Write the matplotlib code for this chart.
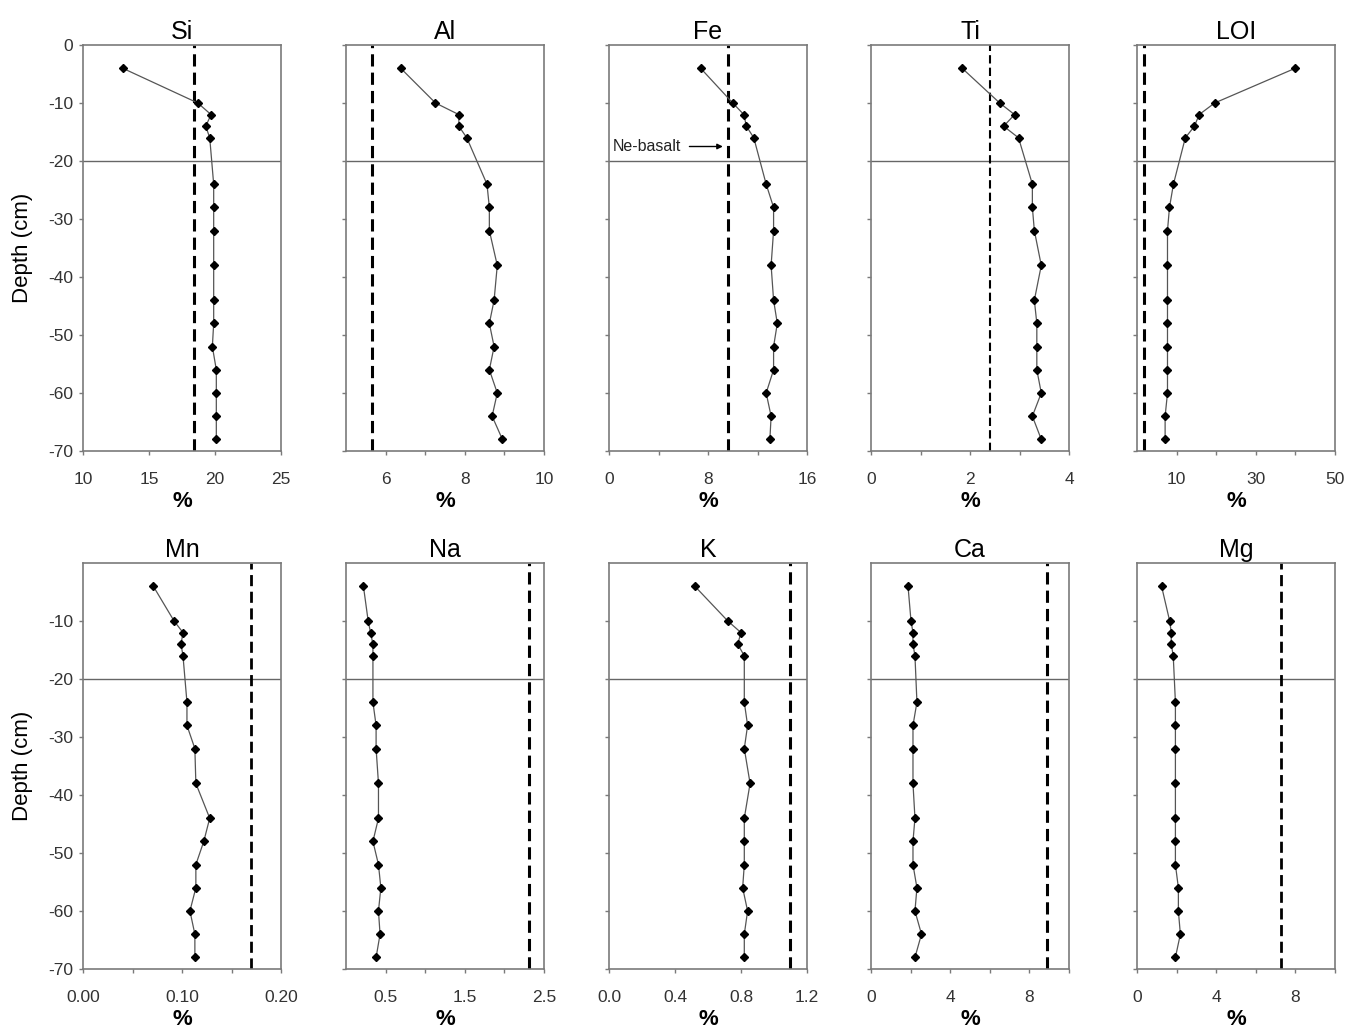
import matplotlib
matplotlib.use("Agg")
import matplotlib.pyplot as plt

plt.rcParams['font.family'] = ['Liberation Sans', 'DejaVu Sans']

# sampling depths (cm)
depth = [-4, -10, -12, -14, -16, -24, -28, -32, -38, -44, -48, -52, -56, -60, -64, -68]

# element profiles (%)
si = [13.0, 18.7, 19.7, 19.3, 19.6, 19.9, 19.9, 19.9, 19.9, 19.9, 19.9, 19.8, 20.1, 20.1, 20.1, 20.1]
al = [6.38, 7.26, 7.85, 7.85, 8.05, 8.56, 8.62, 8.62, 8.82, 8.74, 8.62, 8.74, 8.62, 8.82, 8.69, 8.95]
fe = [7.4, 10.0, 10.9, 11.1, 11.7, 12.7, 13.3, 13.3, 13.1, 13.3, 13.6, 13.3, 13.3, 12.7, 13.1, 13.0]
ti = [1.84, 2.6, 2.9, 2.68, 2.98, 3.26, 3.26, 3.3, 3.44, 3.3, 3.35, 3.35, 3.35, 3.44, 3.26, 3.44]
loi = [40.0, 19.6, 15.7, 14.5, 12.2, 9.2, 8.2, 7.7, 7.7, 7.7, 7.7, 7.7, 7.7, 7.7, 7.1, 7.1]
mn = [0.071, 0.092, 0.101, 0.099, 0.101, 0.105, 0.105, 0.113, 0.114, 0.128, 0.122, 0.114, 0.114, 0.108, 0.113, 0.113]
na = [0.22, 0.28, 0.31, 0.34, 0.34, 0.34, 0.38, 0.38, 0.41, 0.41, 0.34, 0.41, 0.44, 0.41, 0.43, 0.38]
k = [0.52, 0.72, 0.80, 0.78, 0.82, 0.82, 0.84, 0.82, 0.855, 0.82, 0.82, 0.82, 0.81, 0.84, 0.82, 0.82]
ca = [1.87, 2.02, 2.12, 2.12, 2.22, 2.32, 2.12, 2.12, 2.12, 2.22, 2.12, 2.12, 2.32, 2.22, 2.55, 2.22]
mg = [1.24, 1.65, 1.73, 1.73, 1.83, 1.94, 1.94, 1.94, 1.94, 1.94, 1.94, 1.94, 2.09, 2.09, 2.19, 1.94]

# Ne-basalt reference values (%)
basalt = [18.4, 5.65, 9.6, 2.41, 1.7, 0.170, 2.31, 1.097, 8.91, 7.28]

names = ["Si", "Al", "Fe", "Ti", "LOI", "Mn", "Na", "K", "Ca", "Mg"]
profiles = [si, al, fe, ti, loi, mn, na, k, ca, mg]

# axis limits and ticks per panel
xlims = [(10, 25), (5, 10), (0, 16), (0, 4), (0, 50),
         (0, 0.2), (0, 2.5), (0, 1.2), (0, 10), (0, 10)]
xticks = [[10, 15, 20, 25], [6, 7, 8, 9, 10], [0, 4, 8, 12, 16], [0, 1, 2, 3, 4], [10, 20, 30, 40, 50],
          [0, 0.05, 0.1, 0.15, 0.2], [0.5, 1.0, 1.5, 2.0, 2.5], [0, 0.4, 0.8, 1.2],
          [0, 2, 4, 6, 8, 10], [0, 2, 4, 6, 8, 10]]
xticklabels = [["10", "15", "20", "25"], ["6", "", "8", "", "10"], ["0", "", "8", "", "16"],
               ["0", "", "2", "", "4"], ["10", "", "30", "", "50"],
               ["0.00", "", "0.10", "", "0.20"], ["0.5", "", "1.5", "", "2.5"],
               ["0.0", "0.4", "0.8", "1.2"], ["0", "", "4", "", "8", ""], ["0", "", "4", "", "8", ""]]
dash_lw = [2.2, 2.2, 2.2, 1.5, 2.2, 2.0, 2.2, 2.2, 2.2, 2.0]

W, H = 1346, 1029
fig = plt.figure(figsize=(W / 100, H / 100), dpi=100)

lefts = [83, 346, 609, 871, 1137]
tops = [45, 563]
aw, ah = 198, 406

spine_col = "#7a7a7a"
tick_col = "#333333"

for i, name in enumerate(names):
    row, col = divmod(i, 5)
    l = lefts[col] / W
    b = 1 - (tops[row] + ah) / H
    ax = fig.add_axes([l, b, aw / W, ah / H])

    ax.axhline(-20, color="#666666", lw=1.0, zorder=1)
    ax.axvline(basalt[i], color="black", lw=dash_lw[i], ls=(0, (4, 2)), zorder=2)
    ax.plot(profiles[i], depth, color="#555555", lw=0.9, marker="D", ms=4.5,
            mfc="black", mec="black", zorder=3)

    ax.set_xlim(*xlims[i])
    ax.set_ylim(-70, 0)
    ax.set_xticks(xticks[i])
    ax.set_xticklabels(xticklabels[i])
    if row == 0:
        yt = [0, -10, -20, -30, -40, -50, -60, -70]
    else:
        yt = [-10, -20, -30, -40, -50, -60, -70]
    ax.set_yticks(yt)
    if col == 0:
        ax.set_yticklabels([str(v) for v in yt])
        ax.set_ylabel("Depth (cm)", fontsize=16)
        ax.yaxis.set_label_coords(-0.255, 0.5)
    else:
        ax.set_yticklabels([])

    for s in ax.spines.values():
        s.set_color(spine_col)
        s.set_linewidth(1.2)
    ax.tick_params(axis="both", direction="out", length=3, width=1, color=spine_col,
                   labelsize=12.5, labelcolor=tick_col)
    ax.tick_params(axis="x", pad=12)
    ax.tick_params(axis="y", pad=4)

    ax.set_title(name, fontsize=18, pad=4)
    ax.set_xlabel("%", fontsize=16, fontweight="bold", labelpad=3)

    if name == "Fe":
        ax.annotate("Ne-basalt", xy=(basalt[i] - 0.4, -17.5), xytext=(0.3, -17.5),
                    fontsize=11.5, va="center", ha="left", color="#222222",
                    arrowprops=dict(arrowstyle="-|>", color="black", lw=1.0,
                                    mutation_scale=8, shrinkA=4, shrinkB=0))

fig.savefig("out.png", dpi=100)
